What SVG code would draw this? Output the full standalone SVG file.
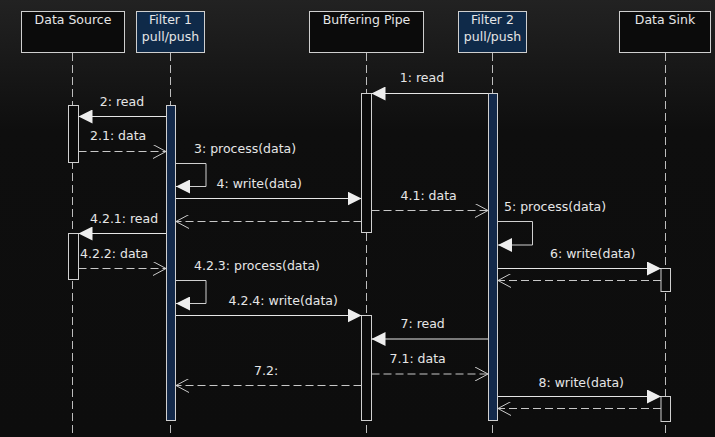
<svg xmlns="http://www.w3.org/2000/svg" width="715" height="437" viewBox="0 0 715 437">
<defs>
<linearGradient id="bg" x1="0" y1="0" x2="0" y2="1">
<stop offset="0" stop-color="#222222"/>
<stop offset="0.3" stop-color="#0e0e0e"/>
<stop offset="1" stop-color="#0d0d0d"/>
</linearGradient>
<marker id="filled" viewBox="0 0 14 14" markerWidth="14" markerHeight="14" refX="14" refY="7" orient="auto" markerUnits="userSpaceOnUse">
<path d="M0,0 L14,7 L0,14 Z" fill="#eeeeee"/>
</marker>
<marker id="open" viewBox="0 0 14 14" markerWidth="14" markerHeight="14" refX="13" refY="7" orient="auto" markerUnits="userSpaceOnUse">
<path d="M0,0 L13,7 L0,14" fill="none" stroke="#cccccc" stroke-width="1"/>
</marker>
</defs>
<style>
text{font-family:"DejaVu Sans","Liberation Sans",sans-serif;font-size:12.5px;fill:#e6e6e6}
.head{fill:#0b0b0b;stroke:#cfcfcf;stroke-width:1}
.headf{fill:#0f2a49;stroke:#cfcfcf;stroke-width:1}
.life{stroke:#bdbdbd;stroke-width:1;stroke-dasharray:8,4;fill:none}
.act{fill:#0b0b0b;stroke:#d0d0d0;stroke-width:1}
.actf{fill:#13294a;stroke:#d0d0d0;stroke-width:1}
.msg{stroke:#e6e6e6;stroke-width:1;fill:none;marker-end:url(#filled)}
.ret{stroke:#c8c8c8;stroke-width:1;fill:none;stroke-dasharray:8,4;marker-end:url(#open)}
.self{stroke:#d0d0d0;stroke-width:1;fill:none;marker-end:url(#filled)}
</style>
<rect x="0" y="0" width="715" height="437" fill="url(#bg)"/>

<g id="lifelines">
<line class="life" x1="72.5" y1="53" x2="72.5" y2="437"/>
<line class="life" x1="170.5" y1="53" x2="170.5" y2="437"/>
<line class="life" x1="366.5" y1="53" x2="366.5" y2="437"/>
<line class="life" x1="492.5" y1="53" x2="492.5" y2="437"/>
<line class="life" x1="665.5" y1="53" x2="665.5" y2="437"/>
</g>

<g id="node-data-source">
<rect class="head" x="21.5" y="11.5" width="103" height="41"/>
<text x="73" y="24" text-anchor="middle">Data Source</text>
<rect class="act" x="68.5" y="105.5" width="10" height="57"/>
<rect class="act" x="68.5" y="233.5" width="10" height="46"/>
</g>
<g id="node-filter1">
<rect class="headf" x="136.5" y="11.5" width="68" height="41"/>
<text x="170.5" y="24" text-anchor="middle">Filter 1</text>
<text x="170.5" y="40.5" text-anchor="middle">pull/push</text>
<rect class="actf" x="166.5" y="105.5" width="9" height="315"/>
</g>
<g id="node-buffering-pipe">
<rect class="head" x="309.5" y="11.5" width="114" height="41"/>
<text x="366.5" y="24" text-anchor="middle">Buffering Pipe</text>
<rect class="act" x="361.5" y="93.5" width="10" height="139"/>
<rect class="act" x="361.5" y="315.5" width="10" height="105"/>
</g>
<g id="node-filter2">
<rect class="headf" x="458.5" y="11.5" width="68" height="41"/>
<text x="492.5" y="24" text-anchor="middle">Filter 2</text>
<text x="492.5" y="40.5" text-anchor="middle">pull/push</text>
<rect class="actf" x="488.5" y="93.5" width="9" height="327"/>
</g>
<g id="node-data-sink">
<rect class="head" x="619.5" y="11.5" width="91" height="41"/>
<text x="665" y="24" text-anchor="middle">Data Sink</text>
<rect class="act" x="661" y="268.5" width="9.5" height="23"/>
<rect class="act" x="661" y="396.5" width="9.5" height="25"/>
</g>

<g id="connectors">
<line class="msg" x1="488" y1="93.5" x2="371.5" y2="93.5"/>
<line class="msg" x1="166" y1="116.5" x2="78.5" y2="116.5"/>
<line class="ret" x1="78.5" y1="151.5" x2="166" y2="151.5"/>
<path class="self" d="M176,163.5 H206 V186.5 H176"/>
<line class="msg" x1="176" y1="198.5" x2="361.5" y2="198.5"/>
<line class="ret" x1="371.5" y1="210.5" x2="488" y2="210.5"/>
<line class="ret" x1="361.5" y1="221.5" x2="176" y2="221.5"/>
<path class="self" d="M498,221.5 H532.5 V245 H498"/>
<line class="msg" x1="166" y1="233.5" x2="78.5" y2="233.5"/>
<line class="ret" x1="78.5" y1="268.5" x2="166" y2="268.5"/>
<line class="msg" x1="498" y1="268.5" x2="661" y2="268.5"/>
<path class="self" d="M176,280.5 H206 V303.5 H176"/>
<line class="ret" x1="661" y1="280.5" x2="498" y2="280.5"/>
<line class="msg" x1="176" y1="315.5" x2="361.5" y2="315.5"/>
<line class="msg" x1="488" y1="339" x2="371.5" y2="339"/>
<line class="ret" x1="371.5" y1="374" x2="488" y2="374"/>
<line class="ret" x1="361.5" y1="385.5" x2="176" y2="385.5"/>
<line class="msg" x1="498" y1="396.5" x2="661" y2="396.5"/>
<line class="ret" x1="661" y1="408.5" x2="498" y2="408.5"/>
</g>

<g id="labels">
<text x="422" y="82" text-anchor="middle">1: read</text>
<text x="122" y="106" text-anchor="middle">2: read</text>
<text x="90" y="140">2.1: data</text>
<text x="194" y="152.5">3: process(data)</text>
<text x="216.5" y="187.5">4: write(data)</text>
<text x="400.5" y="199.5">4.1: data</text>
<text x="504" y="210.5">5: process(data)</text>
<text x="90" y="222.5">4.2.1: read</text>
<text x="80" y="257.5">4.2.2: data</text>
<text x="550" y="257.5">6: write(data)</text>
<text x="194" y="269.5">4.2.3: process(data)</text>
<text x="228.5" y="304.5">4.2.4: write(data)</text>
<text x="400.5" y="328">7: read</text>
<text x="389.5" y="362.5">7.1: data</text>
<text x="254" y="374.5">7.2:</text>
<text x="538.5" y="386.5">8: write(data)</text>
</g>
</svg>
